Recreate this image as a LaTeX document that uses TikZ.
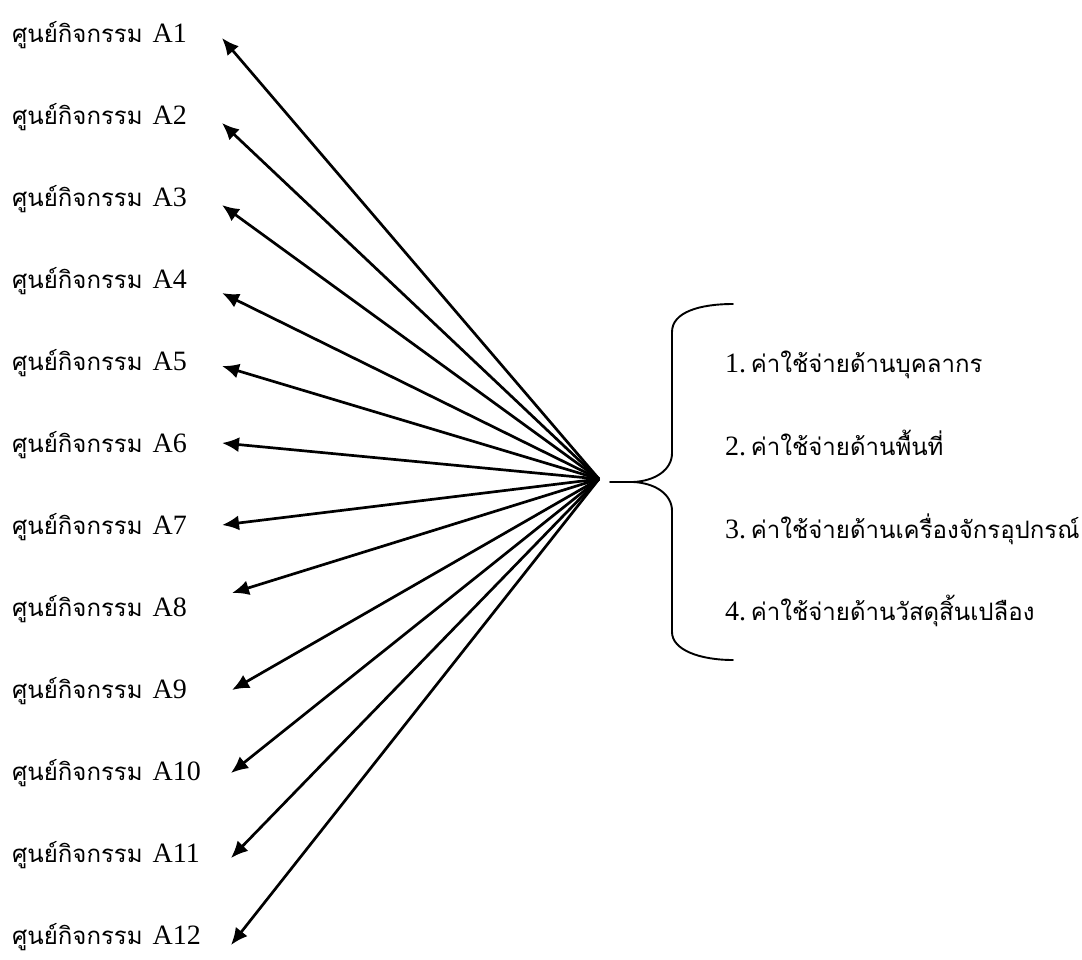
\documentclass[tikz,border=0pt]{standalone}
\usepackage{fontspec}
\setmainfont{Liberation Serif}
\newfontfamily\thaifont[Script=Thai]{Loma}
\usetikzlibrary{arrows.meta}
\newcommand{\thtxt}[1]{{\thaifont\fontsize{24}{28}\selectfont #1}}
\begin{document}
\begin{tikzpicture}[x=1pt,y=-1pt,
  lbl/.style={anchor=base west, inner sep=0pt, font=\fontsize{28}{30}\selectfont},
  arr/.style={line width=2.7pt, -{Latex[length=17pt,width=15pt]}},
  bracepath/.style={line width=1.9pt, line cap=round}]
\useasboundingbox (0,0) rectangle (1082,959);
\fill[white] (0,0) rectangle (1082,959);
% hub
\coordinate (hub) at (599,479);
% left labels
\foreach \i/\y in {1/42,2/124,3/206,4/288,5/370,6/452,7/534,8/616,9/698,10/780,11/862,12/944}{
  \node[lbl] (L\i) at (12,\y) {\thtxt{ศูนย์กิจกรรม}\hspace{10pt}A\i};
}
% arrow tips
\coordinate (t1) at (222,38);
\coordinate (t2) at (222,123);
\coordinate (t3) at (222,205);
\coordinate (t4) at (222,293);
\coordinate (t5) at (222,366);
\coordinate (t6) at (222,443);
\coordinate (t7) at (222,525);
\coordinate (t8) at (232,593);
\coordinate (t9) at (232,690);
\coordinate (t10) at (231,773);
\coordinate (t11) at (231,858);
\coordinate (t12) at (231,945);
\foreach \i in {1,...,12}{
  \draw[arr] (hub) -- (t\i);
}
% brace
\coordinate (bt) at (733,304);
\coordinate (bm) at (610,482);
\coordinate (bb) at (733,660);
\draw[bracepath] (bt) .. controls (700,304) and (672,312) .. (672,332) -- (672,453)
  .. controls (672,470) and (655,481) .. (633,482) -- (bm);
\draw[bracepath] (633,482) .. controls (655,483) and (672,494) .. (672,511) -- (672,632)
  .. controls (672,650) and (700,660) .. (bb);
% right items
\node[lbl] (R1) at (725,372) {1.\,\thtxt{ค่าใช้จ่ายด้านบุคลากร}};
\node[lbl] (R2) at (725,455) {2.\,\thtxt{ค่าใช้จ่ายด้านพื้นที่}};
\node[lbl] (R3) at (725,538) {3.\,\thtxt{ค่าใช้จ่ายด้านเครื่องจักรอุปกรณ์}};
\node[lbl] (R4) at (725,620) {4.\,\thtxt{ค่าใช้จ่ายด้านวัสดุสิ้นเปลือง}};
\end{tikzpicture}
\end{document}
